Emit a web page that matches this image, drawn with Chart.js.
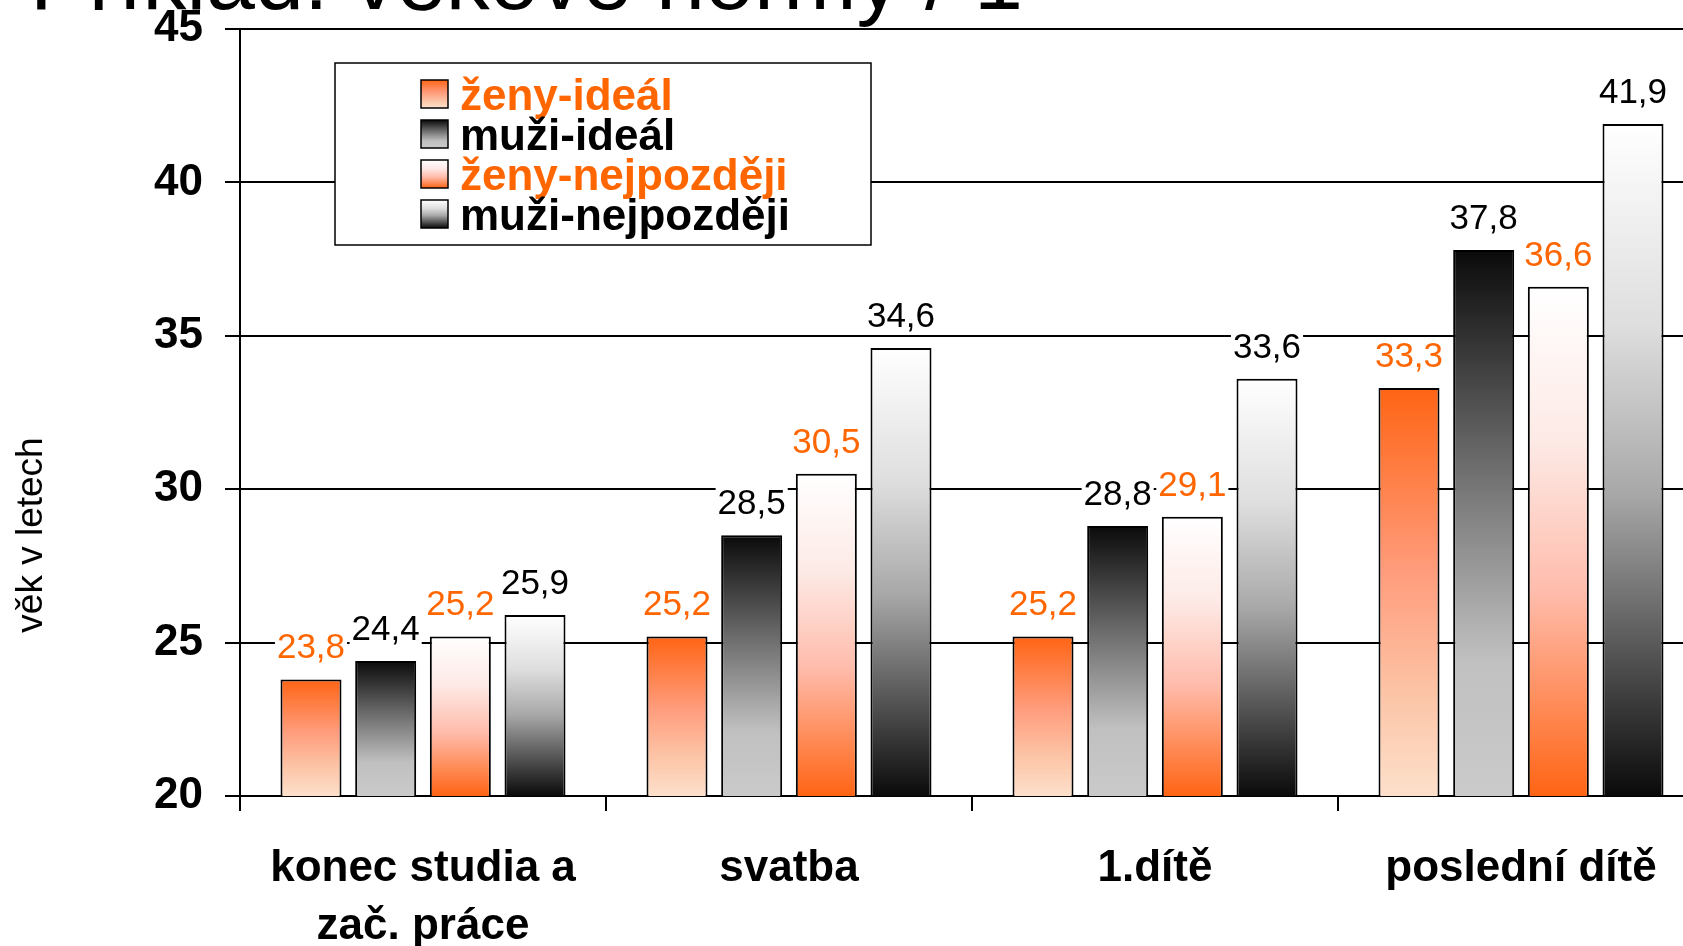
<!DOCTYPE html>
<html>
<head>
<meta charset="utf-8">
<script src="https://cdn.jsdelivr.net/npm/chart.js@4.4.0/dist/chart.umd.min.js"></script>
<style>
  html, body { margin: 0; padding: 0; background: #fff; overflow: hidden; }
  #wrap { position: relative; width: 1720px; height: 946px; }
</style>
</head>
<body>
<div id="wrap"><canvas id="vekChart"></canvas></div>
<script>
// data
const categories = [['konec studia a', 'zač. práce'], 'svatba', '1.dítě', 'poslední dítě'];
const seriesNames = ['ženy-ideál', 'muži-ideál', 'ženy-nejpozději', 'muži-nejpozději'];
const zenyIdeal = [23.8, 25.2, 25.2, 33.3];
const muziIdeal = [24.4, 28.5, 28.8, 37.8];
const zenyNejpozdeji = [25.2, 30.5, 29.1, 36.6];
const muziNejpozdeji = [25.9, 34.6, 33.6, 41.9];
const yTicks = [20, 25, 30, 35, 40, 45];
const titleText = 'Příklad: věkové normy / 1';
const yTitle = 'věk v letech';

// gradient stops, top of bar -> bottom of bar
const gradStops = [
    [[0, '#ff6414'], [0.45, '#ff9c7c'], [0.75, '#fcc4a6'], [1, '#fde0cb']],
    [[0, '#0a0a0a'], [0.4, '#6e6e6e'], [0.75, '#c0c0c0'], [1, '#cacaca']],
    [[0, '#ffffff'], [0.3, '#fdeae6'], [0.6, '#ffbcac'], [1, '#ff6414']],
    [[0, '#ffffff'], [0.3, '#dedede'], [0.55, '#a8a8a8'], [1, '#0a0a0a']]
];
const textColors = ['#ff6600', '#000000', '#ff6600', '#000000'];
const FONT = '"Liberation Sans", Arial, sans-serif';

function makeGradient(c, stops, top, bottom) {
    const g = c.createLinearGradient(0, top, 0, bottom);
    stops.forEach(s => g.addColorStop(s[0], s[1]));
    return g;
}

function barFill(idx) {
    return function (ctx) {
        const chart = ctx.chart;
        const y = chart.scales.y;
        if (!chart.chartArea || !y || ctx.raw === undefined) return '#ffffff';
        const top = y.getPixelForValue(ctx.raw);
        const bottom = y.getPixelForValue(y.min);
        if (!isFinite(top) || !isFinite(bottom) || top === bottom) return '#ffffff';
        return makeGradient(chart.ctx, gradStops[idx], top, bottom);
    };
}

const seriesData = [zenyIdeal, muziIdeal, zenyNejpozdeji, muziNejpozdeji];

// values above bars, white box behind so the grid lines break
const valueLabels = {
    id: 'valueLabels',
    afterDatasetsDraw(chart) {
        const c = chart.ctx;
        c.save();
        c.font = '35px ' + FONT;
        c.textAlign = 'center';
        c.textBaseline = 'alphabetic';
        chart.data.datasets.forEach((ds, di) => {
            chart.getDatasetMeta(di).data.forEach((bar, i) => {
                const txt = ds.data[i].toFixed(1).replace('.', ',');
                const w = c.measureText(txt).width;
                const by = bar.y - 21;
                c.fillStyle = '#ffffff';
                c.fillRect(bar.x - w / 2 - 2, by - 27, w + 4, 34);
                c.fillStyle = textColors[di];
                c.fillText(txt, bar.x, by);
            });
        });
        c.restore();
    }
};

// boxed legend inside the plot, title cut at the top, axis title
const extras = {
    id: 'extras',
    afterDraw(chart) {
        const c = chart.ctx;
        const area = chart.chartArea;
        c.save();

        // legend
        const lx = area.left + 95, ly = area.top + 34;
        c.fillStyle = '#ffffff';
        c.fillRect(lx, ly, 536, 182);
        c.lineWidth = 1.5;
        c.strokeStyle = '#000000';
        c.strokeRect(lx, ly, 536, 182);
        c.font = 'bold 44px ' + FONT;
        c.textAlign = 'left';
        c.textBaseline = 'alphabetic';
        chart.data.datasets.forEach((ds, i) => {
            const sy = ly + 17 + i * 40;
            c.fillStyle = makeGradient(c, gradStops[i], sy, sy + 28);
            c.fillRect(lx + 86, sy, 27, 28);
            c.lineWidth = 1.5;
            c.strokeRect(lx + 86, sy, 27, 28);
            c.fillStyle = textColors[i];
            c.fillText(ds.label, lx + 125, sy + 30);
        });

        // title, mostly above the visible area
        c.fillStyle = '#000000';
        c.font = '88px ' + FONT;
        c.fillText(titleText, 30, 9);

        // y axis title
        c.translate(32, 535);
        c.rotate(-Math.PI / 2);
        c.font = '37px ' + FONT;
        c.textAlign = 'center';
        c.textBaseline = 'middle';
        c.fillText(yTitle, 0, 0);
        c.restore();
    }
};

document.addEventListener('DOMContentLoaded', function () {
    const ctx = document.getElementById('vekChart').getContext('2d');

    new Chart(ctx, {
        type: 'bar',
        data: {
            labels: categories,
            datasets: seriesData.map((d, i) => ({
                label: seriesNames[i],
                data: d,
                backgroundColor: barFill(i),
                borderColor: '#000000',
                borderWidth: 2,
                borderSkipped: false,
                categoryPercentage: 0.816,
                barPercentage: 0.817
            }))
        },
        options: {
            responsive: true,
            maintainAspectRatio: false,
            animation: false,
            layout: { padding: { top: 29, right: 16, left: 0, bottom: 0 } },
            plugins: {
                legend: { display: false },
                title: { display: false },
                tooltip: { enabled: false }
            },
            scales: {
                x: {
                    grid: {
                        offset: true,
                        drawOnChartArea: false,
                        drawTicks: true,
                        tickLength: 15,
                        color: '#000000',
                        lineWidth: 2
                    },
                    border: { color: '#000000', width: 2 },
                    ticks: {
                        color: '#000000',
                        font: { family: FONT, size: 44, weight: 'bold', lineHeight: 1.32 },
                        padding: 29,
                        maxRotation: 0,
                        autoSkip: false
                    },
                    afterFit(s) { s.height = 150; }
                },
                y: {
                    min: 20,
                    max: 45,
                    afterBuildTicks(s) { s.ticks = yTicks.map(v => ({ value: v })); },
                    grid: { color: '#000000', lineWidth: 2, tickLength: 15 },
                    border: { color: '#000000', width: 2 },
                    ticks: {
                        color: '#000000',
                        font: { family: FONT, size: 44, weight: 'bold', lineHeight: 0.5 },
                        padding: 22
                    },
                    afterFit(s) { s.width = 240; s.paddingTop = 0; s.paddingBottom = 0; }
                }
            }
        },
        plugins: [valueLabels, extras]
    });
});
</script>
</body>
</html>
